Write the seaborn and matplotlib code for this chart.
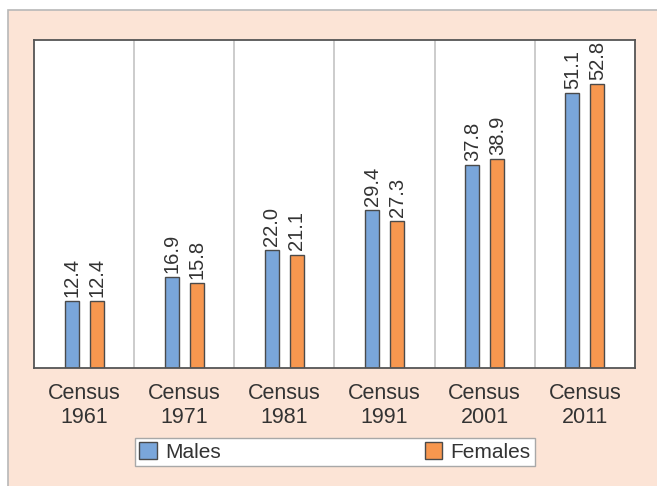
import pandas as pd
import matplotlib.pyplot as plt
import seaborn as sns
from matplotlib.patches import Rectangle

# census literacy values
censuses = ['Census\n1961', 'Census\n1971', 'Census\n1981', 'Census\n1991', 'Census\n2001', 'Census\n2011']
males = [12.4, 16.9, 22.0, 29.4, 37.8, 51.1]
females = [12.4, 15.8, 21.1, 27.3, 38.9, 52.8]

df = pd.DataFrame({
    'census': censuses * 2,
    'value': males + females,
    'sex': ['Males'] * len(males) + ['Females'] * len(females),
})

sns.set_style('white')
plt.rcParams['font.family'] = ['Liberation Sans', 'DejaVu Sans']
plt.rcParams['text.color'] = '#333333'

fig = plt.figure(figsize=(6.57, 4.86), dpi=100)
fig.patch.set_facecolor('white')

# peach panel behind the chart
panel = Rectangle((8 / 657, -0.1), 1.2, (486 - 10) / 486 + 0.1, transform=fig.transFigure,
                  facecolor='#fce4d6', edgecolor='#b8b8b8', lw=1.2, zorder=-10)
fig.patches.append(panel)

ax = fig.add_axes([34 / 657, 1 - 368 / 486, (635 - 34) / 657, (368 - 40) / 486])
ax.set_facecolor('white')

palette = {'Males': '#7aa6da', 'Females': '#f7974f'}
sns.barplot(data=df, x='census', y='value', hue='sex', palette=palette,
            width=0.5, gap=0.44, edgecolor='#4a4a4a', linewidth=1.0,
            saturation=1, legend=True, ax=ax)

for cont in ax.containers:
    ax.bar_label(cont, fmt='%.1f', rotation=90, padding=3, fontsize=14.5, color='#333333')

for xv in [0.5, 1.5, 2.5, 3.5, 4.5]:
    ax.axvline(xv, color='#c4c4c4', lw=1.2, zorder=0)

ax.set_xlim(-0.5, 5.5)
ax.set_ylim(0, 61)
ax.set_xlabel('')
ax.set_ylabel('')
ax.set_yticks([])
ax.tick_params(axis='x', length=0, pad=11, labelsize=15.5, labelcolor='#333333')
for s in ax.spines.values():
    s.set_visible(True)
    s.set_color('#555555')
    s.set_linewidth(1.3)

handles, labels = ax.get_legend_handles_labels()
ax.get_legend().remove()
leg = fig.legend(handles, labels, loc='lower left', ncol=2, mode='expand',
                 bbox_to_anchor=(135 / 657, 20 / 486, 400 / 657, 31 / 486),
                 bbox_transform=fig.transFigure, fontsize=15, frameon=True,
                 fancybox=False, framealpha=1, borderpad=0.2, handlelength=0.85,
                 handleheight=0.85, handletextpad=0.4, borderaxespad=0)
leg.get_frame().set_edgecolor('#a8a8a8')
leg.get_frame().set_facecolor('white')
leg.get_frame().set_linewidth(1.0)

fig.savefig('out.png', dpi=100)
